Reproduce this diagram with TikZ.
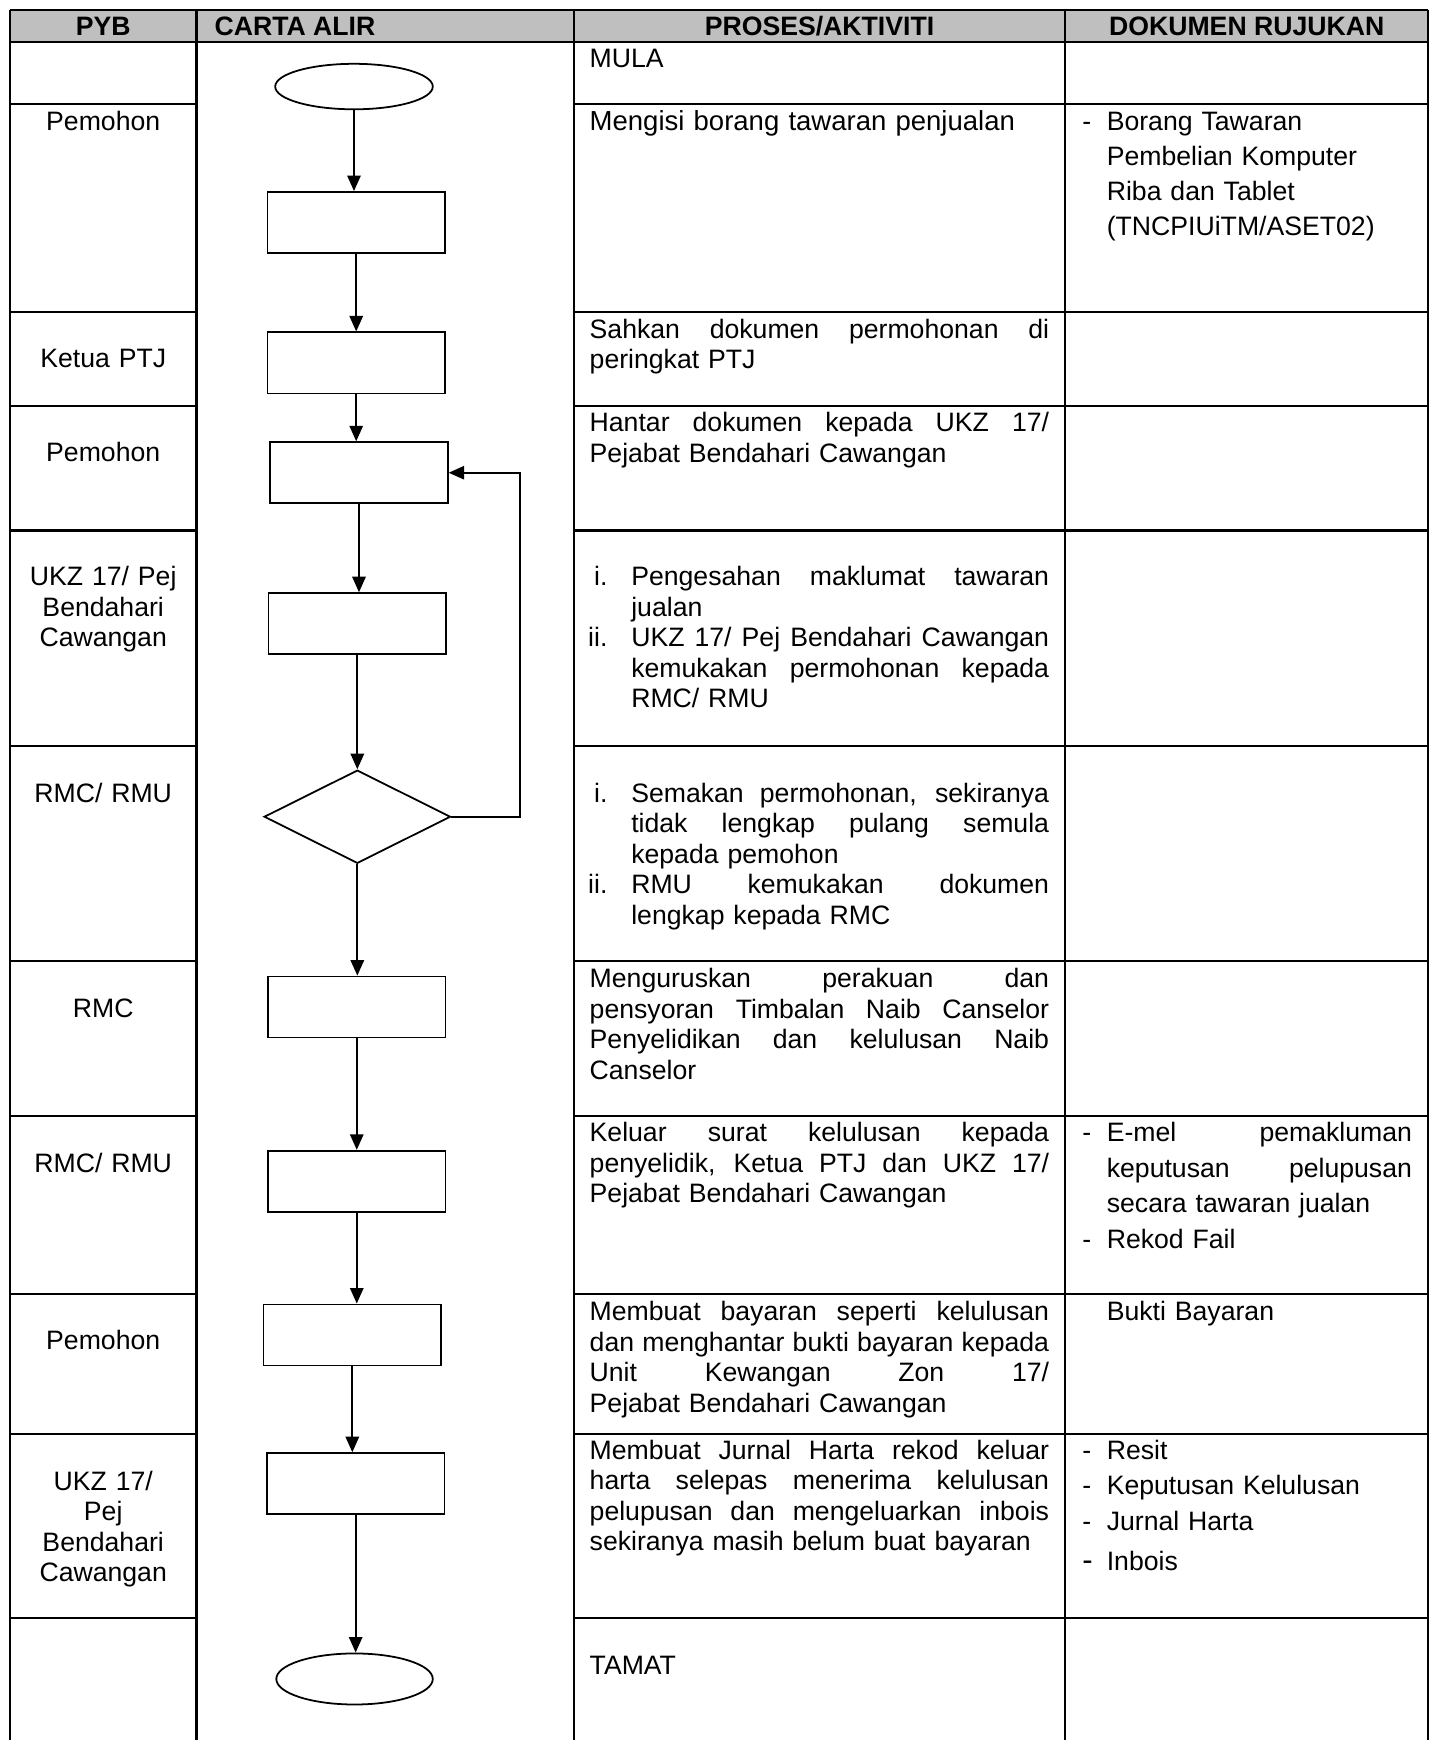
\documentclass[tikz,border=0pt]{standalone}
\usepackage{fontspec}
\setmainfont{Liberation Sans}
\usetikzlibrary{shapes.geometric,arrows.meta}
\definecolor{hdrgray}{RGB}{191,191,191}
\newcommand\J[2]{\leavevmode\hbox to #1{\spaceskip=0pt\xspaceskip=0pt #2}}
\newcommand\itm[1]{\leavevmode\makebox[8pt][r]{#1}\hspace*{10.75pt}}
\newcommand\ind{\leavevmode\hspace*{18.75pt}}
\newcommand\dsh{\leavevmode\makebox[11pt][l]{-}}
\newcommand\dind{\leavevmode\hspace*{11pt}}
\begin{document}
\begin{tikzpicture}[x=0.5pt,y=-0.5pt,
  tline/.style={line width=1pt},
  fbox/.style={draw,line width=0.8pt,minimum width=80pt,minimum height=27.5pt,inner sep=0pt},
  term/.style={draw,ellipse,line width=0.8pt,inner sep=0pt},
  dec/.style={draw,diamond,line width=0.8pt,minimum width=84pt,minimum height=42pt,inner sep=0pt},
  flow/.style={line width=0.9pt,-{Triangle[length=7pt,width=6pt]}},
  hdr/.style={font=\fontsize{12}{13.75}\selectfont\bfseries,inner sep=0pt,anchor=base},
  pyb/.style={font=\fontsize{12}{13.75}\selectfont,text width=80pt,align=center,inner sep=0pt,anchor=base},
  proc/.style={font=\fontsize{12}{13.75}\selectfont,text width=207pt,align=left,inner sep=0pt,anchor=base west},
  doc/.style={font=\fontsize{12}{13.75}\selectfont,text width=150pt,align=left,inner sep=0pt,anchor=base west},
]
\useasboundingbox (0,0) rectangle (1290,1568);
% table
\fill[hdrgray] (9,9) rectangle (1287,38);
\draw[tline] (9,9) -- (1287,9);
\draw[tline] (9,38) -- (1287,38);
\foreach \x in {9,177,517,960,1287} \draw[tline] (\x,9) -- (\x,1568);
\foreach \y in {94,281,366,478,672,866,1006,1166,1292,1458} {
  \draw[tline] (9,\y) -- (177,\y);
  \draw[tline] (517,\y) -- (1287,\y);
}
% header
\node[hdr] (h1) at (93,32) {PYB};
\node[hdr,anchor=base west] (h2) at (193,32) {CARTA ALIR};
\node[hdr] (h3) at (738.5,32) {PROSES/AKTIVITI};
\node[hdr] (h4) at (1123.5,32) {DOKUMEN RUJUKAN};
% PYB column
\node[pyb] (y1) at (93,118) {Pemohon};
\node[pyb] (y2) at (93,331) {Ketua PTJ};
\node[pyb] (y3) at (93,416) {Pemohon};
\node[pyb] (y4) at (93,528) {UKZ 17/ Pej\\Bendahari\\Cawangan};
\node[pyb] (y5) at (93,723) {RMC/ RMU};
\node[pyb] (y6) at (93,917) {RMC};
\node[pyb] (y7) at (93,1057) {RMC/ RMU};
\node[pyb] (y8) at (93,1216) {Pemohon};
\node[pyb] (y9) at (93,1343) {UKZ 17/\\Pej\\Bendahari\\Cawangan};
% flowchart
\node[term,minimum width=71pt,minimum height=20.5pt] (start) at (319,78) {};
\node[fbox] (b1) at (321,200.5) {};
\node[fbox] (b2) at (321,327) {};
\node[fbox] (b3) at (323.5,426) {};
\node[fbox] (b4) at (322,562) {};
\node[dec] (d1) at (322,736) {};
\node[fbox] (b5) at (321.5,907.5) {};
\node[fbox] (b6) at (321.5,1064.5) {};
\node[fbox] (b7) at (317.5,1203) {};
\node[fbox] (b8) at (320.5,1337) {};
\node[term,minimum width=70.5pt,minimum height=23pt] (end) at (319.5,1513) {};
\draw[flow] (start.south) -- (start.south |- b1.north);
\draw[flow] (b1.south) -- (b1.south |- b2.north);
\draw[flow] (b2.south) -- (b2.south |- b3.north);
\draw[flow] (b3.south) -- (b3.south |- b4.north);
\draw[flow] (b4.south) -- (b4.south |- d1.north);
\draw[flow] (d1.south) -- (d1.south |- b5.north);
\draw[flow] (b5.south) -- (b5.south |- b6.north);
\draw[flow] (b6.south) -- (b6.south |- b7.north);
\draw[flow] (b7.south) -- (b7.south |- b8.north);
\draw[flow] (b8.south) -- (b8.south |- end.north);
\draw[flow] (d1.east) -- ++(62,0) |- (b3.east);
% process column
\node[proc] (p0) at (531,61) {MULA};
\node[proc,font=\fontsize{12.4}{13.75}\selectfont] (p1) at (531,118) {Mengisi borang tawaran penjualan};
\node[proc] (p2) at (531,305) {\J{207pt}{Sahkan dokumen permohonan di}\\peringkat PTJ};
\node[proc] (p3) at (531,389) {\J{207pt}{Hantar dokumen kepada UKZ 17/}\\Pejabat Bendahari Cawangan};
\node[proc] (p4) at (531,528) {\itm{i.}\J{188.25pt}{Pengesahan maklumat tawaran}\\\ind jualan\\\itm{ii.}\J{188.25pt}{UKZ 17/ Pej Bendahari Cawangan}\\\ind\J{188.25pt}{kemukakan permohonan kepada}\\\ind RMC/ RMU};
\node[proc] (p5) at (531,723) {\itm{i.}\J{188.25pt}{Semakan permohonan, sekiranya}\\\ind\J{188.25pt}{tidak lengkap pulang semula}\\\ind kepada pemohon\\\itm{ii.}\J{188.25pt}{RMU kemukakan dokumen}\\\ind lengkap kepada RMC};
\node[proc] (p6) at (531,890) {\J{207pt}{Menguruskan perakuan dan}\\\J{207pt}{pensyoran Timbalan Naib Canselor}\\\J{207pt}{Penyelidikan dan kelulusan Naib}\\Canselor};
\node[proc] (p7) at (531,1029) {\J{207pt}{Keluar surat kelulusan kepada}\\\J{207pt}{penyelidik, Ketua PTJ dan UKZ 17/}\\Pejabat Bendahari Cawangan};
\node[proc] (p8) at (531,1190) {\J{207pt}{Membuat bayaran seperti kelulusan}\\\J{207pt}{dan menghantar bukti bayaran kepada}\\\J{207pt}{Unit Kewangan Zon 17/}\\Pejabat Bendahari Cawangan};
\node[proc] (p9) at (531,1315) {\J{207pt}{Membuat Jurnal Harta rekod keluar}\\\J{207pt}{harta selepas menerima kelulusan}\\\J{207pt}{pelupusan dan mengeluarkan inbois}\\sekiranya masih belum buat bayaran};
\node[proc] (p10) at (531,1509) {TAMAT};
% document column
\node[doc] (k1) at (975,118) {\dsh Borang Tawaran\\[1.9pt]\dind Pembelian Komputer\\[1.9pt]\dind Riba dan Tablet\\[1.9pt]\dind (TNCPIUiTM/ASET02)};
\node[doc] (k2) at (975,1029) {\dsh\J{137.5pt}{E-mel pemakluman}\\[2.25pt]\dind\J{137.5pt}{keputusan pelupusan}\\[2.25pt]\dind secara tawaran jualan\\[2.25pt]\dsh Rekod Fail};
\node[doc] (k3) at (997,1190) {Bukti Bayaran};
\node[doc] (k4) at (975,1315) {\dsh Resit\\[2.25pt]\dsh Keputusan Kelulusan\\[2.25pt]\dsh Jurnal Harta\\[4.25pt]\leavevmode\makebox[11pt][l]{\fontsize{14}{14}\selectfont -}Inbois};
\end{tikzpicture}
\end{document}
